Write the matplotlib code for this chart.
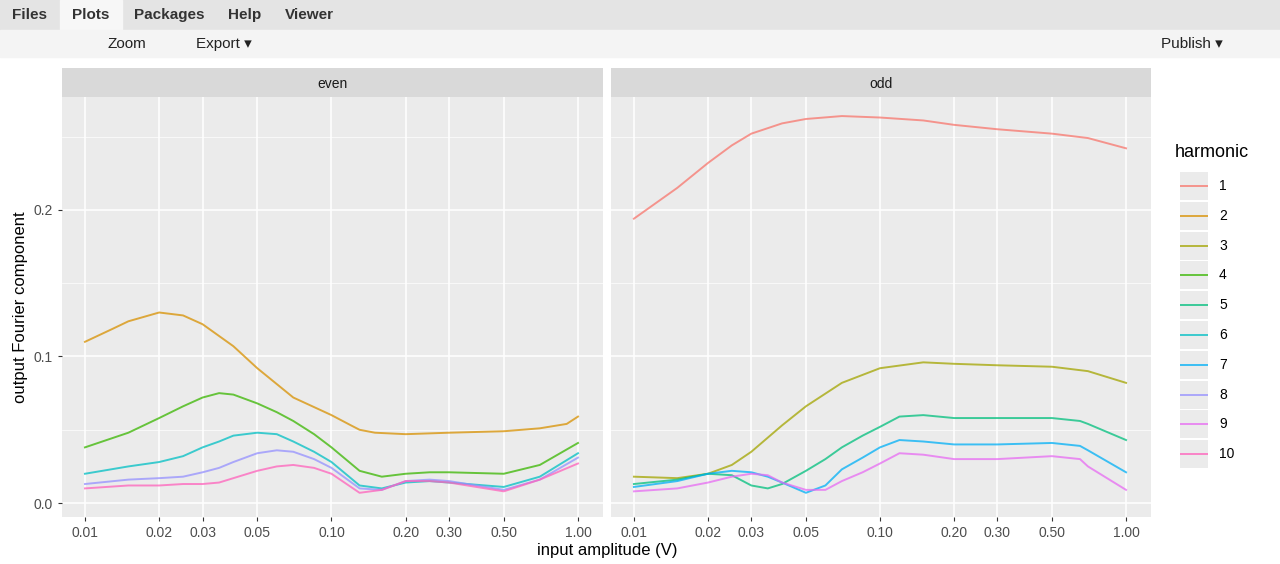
import numpy as np
import matplotlib
matplotlib.use("Agg")
import matplotlib.pyplot as plt
from matplotlib.patches import Rectangle

plt.rcParams.update({"font.family": ["Liberation Sans", "DejaVu Sans"]})

W, H = 1280, 564
COLORS = ["#F8766D", "#D89000", "#A3A500", "#39B600", "#00BF7D",
          "#00BFC4", "#00B0F6", "#9590FF", "#E76BF3", "#FF62BC"]

# even harmonics
x_h2 = [0.01, 0.013, 0.015, 0.02, 0.025, 0.03, 0.04, 0.05, 0.07, 0.1, 0.12, 0.13, 0.15, 0.2, 0.3, 0.5, 0.7, 0.9, 1.0]
y_h2 = [0.110, 0.119, 0.124, 0.130, 0.128, 0.122, 0.107, 0.092, 0.072, 0.060, 0.053, 0.050, 0.048, 0.047, 0.048, 0.049, 0.051, 0.054, 0.059]
x_even = [0.01, 0.015, 0.02, 0.025, 0.03, 0.035, 0.04, 0.05, 0.06, 0.07, 0.085, 0.1, 0.13, 0.16, 0.2, 0.25, 0.3, 0.5, 0.7, 1.0]
y_h4 = [0.038, 0.048, 0.058, 0.066, 0.072, 0.075, 0.074, 0.068, 0.062, 0.056, 0.047, 0.038, 0.022, 0.018, 0.020, 0.021, 0.021, 0.020, 0.026, 0.041]
y_h6 = [0.020, 0.025, 0.028, 0.032, 0.038, 0.042, 0.046, 0.048, 0.047, 0.042, 0.035, 0.028, 0.012, 0.010, 0.014, 0.015, 0.014, 0.011, 0.018, 0.034]
y_h8 = [0.013, 0.016, 0.017, 0.018, 0.021, 0.024, 0.028, 0.034, 0.036, 0.035, 0.030, 0.024, 0.010, 0.009, 0.015, 0.016, 0.015, 0.009, 0.016, 0.031]
y_h10 = [0.010, 0.012, 0.012, 0.013, 0.013, 0.014, 0.017, 0.022, 0.025, 0.026, 0.024, 0.020, 0.007, 0.009, 0.015, 0.015, 0.014, 0.008, 0.016, 0.027]

# odd harmonics
x_h1 = [0.01, 0.015, 0.02, 0.025, 0.03, 0.04, 0.05, 0.07, 0.1, 0.15, 0.2, 0.3, 0.5, 0.7, 1.0]
y_h1 = [0.194, 0.215, 0.232, 0.244, 0.252, 0.259, 0.262, 0.264, 0.263, 0.261, 0.258, 0.255, 0.252, 0.249, 0.242]
x_h3 = [0.01, 0.015, 0.02, 0.025, 0.03, 0.04, 0.05, 0.07, 0.1, 0.15, 0.2, 0.3, 0.5, 0.7, 1.0]
y_h3 = [0.018, 0.017, 0.020, 0.026, 0.035, 0.053, 0.066, 0.082, 0.092, 0.096, 0.095, 0.094, 0.093, 0.090, 0.082]
x_odd = [0.01, 0.015, 0.02, 0.025, 0.03, 0.035, 0.04, 0.05, 0.06, 0.07, 0.085, 0.1, 0.12, 0.15, 0.2, 0.3, 0.5, 0.65, 0.7, 1.0]
y_h5 = [0.013, 0.016, 0.020, 0.019, 0.012, 0.010, 0.013, 0.022, 0.030, 0.038, 0.046, 0.052, 0.059, 0.060, 0.058, 0.058, 0.058, 0.056, 0.054, 0.043]
y_h7 = [0.011, 0.015, 0.020, 0.022, 0.021, 0.018, 0.014, 0.007, 0.012, 0.023, 0.031, 0.038, 0.043, 0.042, 0.040, 0.040, 0.041, 0.039, 0.036, 0.021]
y_h9 = [0.008, 0.010, 0.014, 0.018, 0.020, 0.019, 0.014, 0.009, 0.009, 0.015, 0.021, 0.027, 0.034, 0.033, 0.030, 0.030, 0.032, 0.030, 0.025, 0.009]

panels = {
    "even": [(2, x_h2, y_h2), (4, x_even, y_h4), (6, x_even, y_h6), (8, x_even, y_h8), (10, x_even, y_h10)],
    "odd": [(1, x_h1, y_h1), (3, x_h3, y_h3), (5, x_odd, y_h5), (7, x_odd, y_h7), (9, x_odd, y_h9)],
}
xticks = [0.01, 0.02, 0.03, 0.05, 0.10, 0.20, 0.30, 0.50, 1.00]
yticks = [0.0, 0.1, 0.2]

fig = plt.figure(figsize=(W / 100, H / 100), dpi=100)

def fr(x0, y0, x1, y1):
    return [x0 / W, 1 - y1 / H, (x1 - x0) / W, (y1 - y0) / H]

# RStudio chrome
fig.patches.append(Rectangle((0, 1 - 30 / H), 1, 30 / H, transform=fig.transFigure, color="#e4e4e4"))
fig.patches.append(Rectangle((60 / W, 1 - 30 / H), 62 / W, 30 / H, transform=fig.transFigure, color="#f7f7f7"))
fig.patches.append(Rectangle((0, 1 - 57 / H), 1, 27 / H, transform=fig.transFigure, color="#f4f4f4"))
for x, t in [(12, "Files"), (72, "Plots"), (134, "Packages"), (228, "Help"), (285, "Viewer")]:
    fig.text(x / W, 1 - 15 / H, t, fontsize=11, fontweight="bold", va="center", color="#333")
for x, t in [(108, "Zoom"), (196, "Export ▾"), (1161, "Publish ▾")]:
    fig.text(x / W, 1 - 44 / H, t, fontsize=11, va="center", color="#222")

bounds = {"even": (62, 603), "odd": (611, 1151)}
for name, (x0, x1) in bounds.items():
    st = fig.add_axes(fr(x0, 68, x1, 97))
    st.set_facecolor("#d9d9d9")
    st.set_xticks([]); st.set_yticks([])
    for s in st.spines.values():
        s.set_visible(False)
    st.text(0.5, 0.45, name, ha="center", va="center", fontsize=10, color="#1a1a1a", transform=st.transAxes)

    ax = fig.add_axes(fr(x0, 97, x1, 517))
    ax.set_facecolor("#ebebeb")
    for h, xs, ys in panels[name]:
        ax.plot(xs, ys, color=COLORS[h - 1], lw=1.4, alpha=0.75)
    ax.set_xscale("log")
    ax.set_xlim(0.00807, 1.263)
    ax.set_ylim(-0.0095, 0.277)
    ax.set_xticks(xticks)
    ax.set_xticklabels([f"{v:.2f}" for v in xticks])
    ax.minorticks_off()
    ax.set_yticks(yticks)
    ax.set_yticklabels(["0.0", "0.1", "0.2"] if name == "even" else [])
    ax.set_yticks([0.05, 0.15, 0.25], minor=True)
    ax.grid(True, which="major", color="white", lw=1.1)
    ax.grid(True, which="minor", axis="y", color="white", lw=0.5)
    ax.set_axisbelow(True)
    for s in ax.spines.values():
        s.set_visible(False)
    ax.tick_params(length=3, color="#333", labelsize=10, labelcolor="#4d4d4d")
    ax.tick_params(which="minor", length=0)
    if name == "even":
        ax.set_ylabel("output Fourier component", fontsize=12)
    else:
        ax.tick_params(axis="y", length=0)

fig.text(607 / W, 1 - 550 / H, "input amplitude (V)", ha="center", va="center", fontsize=12)

# legend
fig.text(1175 / W, 1 - 153 / H, "harmonic", fontsize=13, va="center")
for i in range(10):
    y = 186 + i * 29.8
    lk = fig.add_axes(fr(1180, y - 14, 1208, y + 14))
    lk.set_facecolor("#ebebeb")
    lk.plot([0, 1], [0.5, 0.5], color=COLORS[i], lw=1.4, alpha=0.75)
    lk.set_xlim(0, 1); lk.set_ylim(0, 1)
    lk.set_xticks([]); lk.set_yticks([])
    for s in lk.spines.values():
        s.set_visible(False)
    fig.text(1219 / W, 1 - y / H, str(i + 1), fontsize=10, va="center")

fig.savefig("out.png", dpi=100)
